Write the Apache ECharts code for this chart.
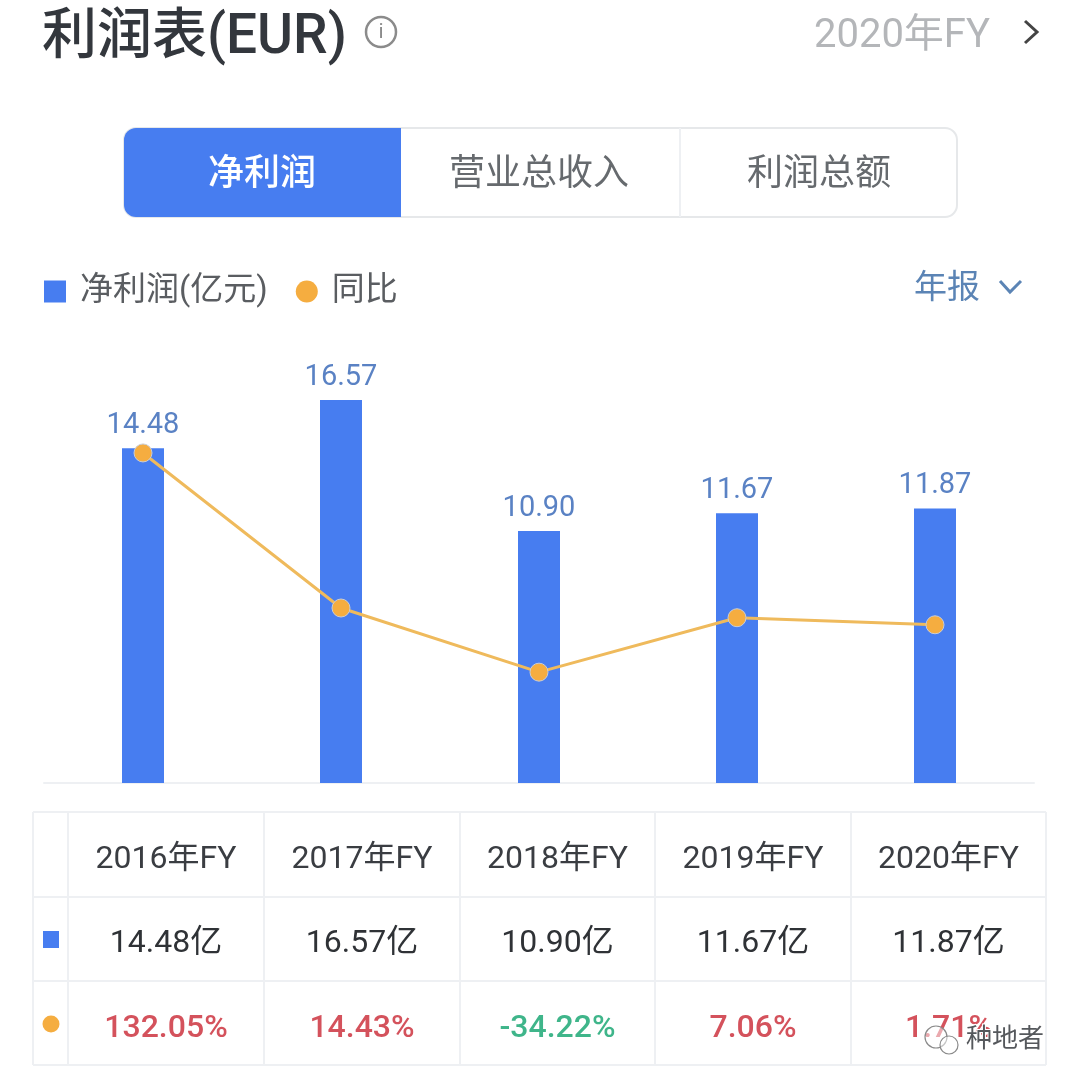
<!DOCTYPE html>
<html lang="zh">
<head>
    <meta charset="UTF-8"/>
    <title>利润表(EUR)</title>
    <script src="https://cdn.jsdelivr.net/npm/echarts@6/dist/echarts.min.js"></script>
    <style>
        html, body { margin: 0; padding: 0; background: #fff; }
        #chart { width: 1080px; height: 1087px; }
    </style>
</head>
<body>
<div id="chart"></div>
<script type="text/javascript">
    var years = ["2016年FY", "2017年FY", "2018年FY", "2019年FY", "2020年FY"];
    var netProfit = [14.48, 16.57, 10.90, 11.67, 11.87];
    var yoy = [132.05, 14.43, -34.22, 7.06, 1.71];
    var tabs = ["净利润", "营业总收入", "利润总额"];

    var FONT = 'Roboto, "Noto Sans CJK SC", sans-serif';
    var BLUE = "#477df0", ORANGE = "#f5ad40", LINE = "#eef0f3";

    function text(str, x, y, size, fill, align, weight) {
        return {
            type: "text", z: 10,
            style: {
                // CJK glyphs sit high in the line box, push them back down a bit
                text: str, x: x, y: y + 4, fill: fill,
                font: (weight || 400) + " " + size + "px " + FONT,
                textAlign: align || "center", textVerticalAlign: "middle"
            }
        };
    }
    function hline(x1, x2, y) {
        return {type: "line", shape: {x1: x1, y1: y, x2: x2, y2: y}, style: {stroke: LINE, lineWidth: 2}};
    }
    function vline(x, y1, y2) {
        return {type: "line", shape: {x1: x, y1: y1, x2: x, y2: y2}, style: {stroke: LINE, lineWidth: 2}};
    }

    var els = [];
    // header
    els.push(text("利润表(EUR)", 42, 35, 55, "#33373d", "left", 500));
    els.push({type: "circle", shape: {cx: 381, cy: 32, r: 15}, style: {fill: "none", stroke: "#8b8b8b", lineWidth: 2.5}});
    els.push(text("i", 381, 29, 21, "#8b8b8b"));
    els.push(text("2020年FY", 990, 33, 40, "#b4b6b9", "right"));
    els.push({
        type: "polyline", shape: {points: [[1025, 21], [1037, 32], [1025, 43]]},
        style: {fill: "none", stroke: "#444", lineWidth: 3}
    });

    // tabs
    els.push({type: "rect", shape: {x: 124, y: 128, width: 833, height: 89, r: 12}, style: {fill: "#fff", stroke: "#e6e8ea", lineWidth: 2}});
    els.push({type: "rect", shape: {x: 124, y: 128, width: 277, height: 89, r: [12, 0, 0, 12]}, style: {fill: BLUE}});
    els.push(vline(680, 128, 217));
    els.push(text(tabs[0], 262, 172, 36, "#fff", "center", 500));
    els.push(text(tabs[1], 539, 172, 36, "#666a6e"));
    els.push(text(tabs[2], 819, 172, 36, "#666a6e"));

    // report type switch
    els.push(text("年报", 947, 286, 33, "#5b84b5"));
    els.push({
        type: "polyline", shape: {points: [[1000, 281], [1010, 292], [1021, 281]]},
        style: {fill: "none", stroke: "#5b84b5", lineWidth: 3}
    });

    // table
    var colX = [33, 68, 264, 460, 655, 851, 1046], rowY = [812, 897, 981, 1065];
    rowY.forEach(function (y) { els.push(hline(33, 1046, y)); });
    colX.forEach(function (x) { els.push(vline(x, 812, 1065)); });
    els.push({type: "rect", shape: {x: 43, y: 931, width: 16, height: 17}, style: {fill: BLUE}});
    els.push({type: "circle", shape: {cx: 51, cy: 1024, r: 8.5}, style: {fill: ORANGE}});
    years.forEach(function (year, i) {
        var cx = (colX[i + 1] + colX[i + 2]) / 2;
        els.push(text(year, cx, 856, 32, "#3a3d42"));
        els.push(text(netProfit[i].toFixed(2) + "亿", cx, 940, 32, "#2f3236"));
        els.push(text(yoy[i].toFixed(2) + "%", cx, 1025, 32, yoy[i] < 0 ? "#3fb58a" : "#d4525c", "center", 500));
    });

    // watermark
    els.push({type: "circle", z: 11, shape: {cx: 936, cy: 1037, r: 11}, style: {fill: "rgba(255,255,255,0.5)", stroke: "#8a8a8a", lineWidth: 1.2}});
    els.push({type: "circle", z: 11, shape: {cx: 949, cy: 1045, r: 9}, style: {fill: "rgba(255,255,255,0.5)", stroke: "#8a8a8a", lineWidth: 1.2}});
    var mark = text("种地者", 966, 1036, 26, "#55585c", "left");
    mark.z = 12;
    mark.style.stroke = "#fff";
    mark.style.lineWidth = 2;
    els.push(mark);

    var chart = echarts.init(document.getElementById("chart"));
    chart.setOption({
        animation: false,
        backgroundColor: "#fff",
        textStyle: {fontFamily: FONT},
        legend: {
            left: 44, top: 275, padding: 0,
            itemWidth: 22, itemHeight: 22, itemGap: 28,
            itemStyle: {borderWidth: 0},
            lineStyle: {opacity: 0},
            textStyle: {fontSize: 33, color: "#5a5d61", fontFamily: FONT, padding: [3, 0, 0, 9]},
            data: [
                {name: "净利润(亿元)", icon: "rect"},
                {name: "同比", icon: "circle"}
            ]
        },
        grid: {left: 44, right: 46, top: 390, bottom: 304},
        xAxis: {
            type: "category",
            data: years,
            axisTick: {show: false},
            axisLabel: {show: false},
            axisLine: {lineStyle: {color: LINE, width: 2}}
        },
        yAxis: [
            {type: "value", min: 0, max: 17, show: false},
            {type: "value", min: -118.3, max: 179.8, show: false}
        ],
        series: [
            {
                name: "净利润(亿元)",
                type: "bar",
                data: netProfit,
                barWidth: 42,
                itemStyle: {color: BLUE},
                label: {
                    show: true, position: "top", distance: 8,
                    fontSize: 29, color: "#5a82c4", fontFamily: FONT,
                    formatter: function (p) { return p.value.toFixed(2); }
                }
            },
            {
                name: "同比",
                type: "line",
                yAxisIndex: 1,
                data: yoy,
                symbol: "circle",
                symbolSize: 18,
                itemStyle: {color: ORANGE, borderColor: "#c9cdd6", borderWidth: 1},
                lineStyle: {color: "#efba5c", width: 3}
            }
        ],
        graphic: {elements: els}
    });
</script>
</body>
</html>
